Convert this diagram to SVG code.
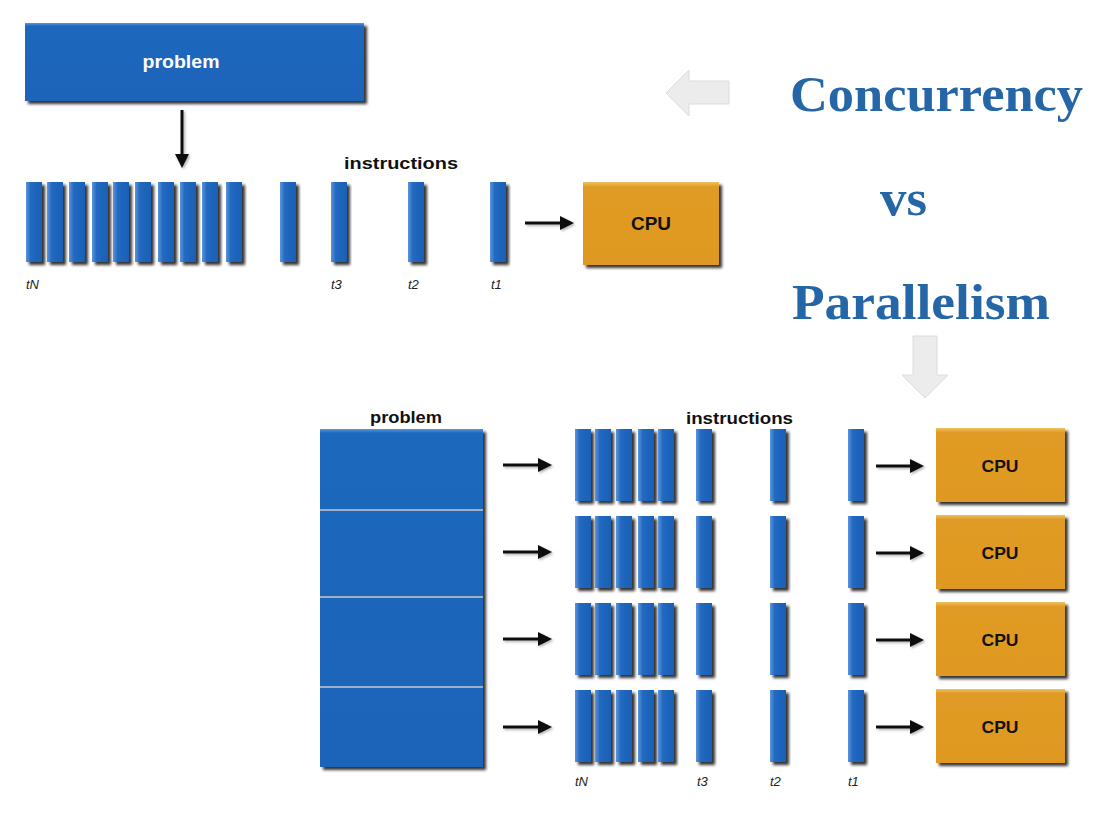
<svg xmlns="http://www.w3.org/2000/svg" width="1095" height="814" viewBox="0 0 1095 814">
<defs>
<style>
.bar{fill:url(#barGrad);filter:url(#sh)}
.blue{fill:url(#boxGrad);filter:url(#sh)}
.blue2{fill:url(#boxGrad2);filter:url(#sh)}
.cpu{fill:url(#cpuGrad);filter:url(#sh)}
.lbl{font-family:"Liberation Sans",Arial,sans-serif;font-weight:bold;fill:#111}
.tl{font-family:"Liberation Sans",Arial,sans-serif;font-style:italic;font-size:13px;fill:#222}
.title{font-family:"Liberation Serif","Times New Roman",serif;font-weight:bold;font-size:50px;fill:#2566a7}
.arr{stroke:#111;stroke-width:3;fill:none;marker-end:url(#ah);filter:url(#sh2)}
.ghost{fill:#ececec;stroke:#dcdcdc;stroke-width:1}
.div{stroke:#c8c8c8;stroke-width:1.5}
</style>
<linearGradient id="barGrad" x1="0" y1="0" x2="1" y2="0">
<stop offset="0" stop-color="#5a95dc"/>
<stop offset="0.3" stop-color="#2168c0"/>
<stop offset="1" stop-color="#1c60b5"/>
</linearGradient>
<linearGradient id="boxGrad" x1="0" y1="0" x2="0" y2="1">
<stop offset="0" stop-color="#5b97dc"/>
<stop offset="0.04" stop-color="#1f67bd"/>
<stop offset="1" stop-color="#1e64b9"/>
</linearGradient>
<linearGradient id="boxGrad2" x1="0" y1="0" x2="0" y2="1">
<stop offset="0" stop-color="#5b97dc"/>
<stop offset="0.012" stop-color="#1f67bd"/>
<stop offset="1" stop-color="#1e64b9"/>
</linearGradient>
<linearGradient id="cpuGrad" x1="0" y1="0" x2="0" y2="1">
<stop offset="0" stop-color="#f0c060"/>
<stop offset="0.06" stop-color="#e09b25"/>
<stop offset="1" stop-color="#df9922"/>
</linearGradient>
<filter id="sh" x="-30%" y="-10%" width="160%" height="130%">
<feDropShadow dx="3" dy="3" stdDeviation="1.6" flood-color="#000" flood-opacity="0.8"/>
</filter>
<filter id="sh2" filterUnits="userSpaceOnUse" x="0" y="0" width="1095" height="814">
<feDropShadow dx="1.5" dy="1.5" stdDeviation="1" flood-color="#000" flood-opacity="0.3"/>
</filter>
<marker id="ah" markerUnits="userSpaceOnUse" markerWidth="16" markerHeight="16" refX="2" refY="7" orient="auto">
<path d="M0,0 L14,7 L0,14 z" fill="#111"/>
</marker>
</defs>
<rect width="1095" height="814" fill="#fff"/>

<g id="concurrency">
<g id="problem-top">
<rect class="blue" x="25" y="23" width="339" height="78"/>
<text x="181" y="68" text-anchor="middle" class="lbl" style="fill:#fff;font-size:18px" textLength="77" lengthAdjust="spacingAndGlyphs">problem</text>
</g>
<g id="instructions-top">
<text x="344" y="169" class="lbl" style="font-size:17px" textLength="114" lengthAdjust="spacingAndGlyphs">instructions</text>
<rect class="bar" x="26" y="182" width="16" height="80"/>
<rect class="bar" x="47" y="182" width="16" height="80"/>
<rect class="bar" x="69" y="182" width="16" height="80"/>
<rect class="bar" x="92" y="182" width="16" height="80"/>
<rect class="bar" x="113" y="182" width="16" height="80"/>
<rect class="bar" x="135" y="182" width="16" height="80"/>
<rect class="bar" x="158" y="182" width="16" height="80"/>
<rect class="bar" x="180" y="182" width="16" height="80"/>
<rect class="bar" x="202" y="182" width="16" height="80"/>
<rect class="bar" x="226" y="182" width="16" height="80"/>
<rect class="bar" x="280" y="182" width="16" height="80"/>
<rect class="bar" x="331" y="182" width="16" height="80"/>
<rect class="bar" x="408" y="182" width="16" height="80"/>
<rect class="bar" x="490" y="182" width="16" height="80"/>
<text class="tl" x="26" y="289">tN</text>
<text class="tl" x="331" y="289">t3</text>
<text class="tl" x="408" y="289">t2</text>
<text class="tl" x="491" y="289">t1</text>
</g>
<g id="cpu-top">
<rect class="cpu" x="583" y="182" width="136" height="83"/>
<text x="651" y="230" text-anchor="middle" class="lbl" style="font-size:18px" textLength="40" lengthAdjust="spacingAndGlyphs">CPU</text>
</g>
</g>

<g id="titles">
<text class="title" x="790" y="111" textLength="293" lengthAdjust="spacingAndGlyphs">Concurrency</text>
<text class="title" x="880" y="215" textLength="47" lengthAdjust="spacingAndGlyphs">vs</text>
<text class="title" x="792" y="319" textLength="258" lengthAdjust="spacingAndGlyphs">Parallelism</text>
<path class="ghost" d="M666,93 L689,70 L689,81 L729,81 L729,104 L689,104 L689,116 Z"/>
<path class="ghost" d="M913,336 L937,336 L937,375 L948,375 L925,398 L902,375 L913,375 Z"/>
</g>

<g id="parallelism">
<g id="problem-bottom">
<text x="406" y="423" text-anchor="middle" class="lbl" style="font-size:16px" textLength="72" lengthAdjust="spacingAndGlyphs">problem</text>
<rect class="blue2" x="320" y="429" width="163" height="338"/>
<line class="div" x1="320" y1="510" x2="483" y2="510"/>
<line class="div" x1="320" y1="597" x2="483" y2="597"/>
<line class="div" x1="320" y1="687" x2="483" y2="687"/>
</g>
<text x="686" y="424" class="lbl" style="font-size:16px" textLength="107" lengthAdjust="spacingAndGlyphs">instructions</text>
<g id="row1">
<rect class="bar" x="575" y="429" width="16" height="72"/>
<rect class="bar" x="595" y="429" width="16" height="72"/>
<rect class="bar" x="616" y="429" width="16" height="72"/>
<rect class="bar" x="638" y="429" width="16" height="72"/>
<rect class="bar" x="658" y="429" width="16" height="72"/>
<rect class="bar" x="696" y="429" width="16" height="72"/>
<rect class="bar" x="770" y="429" width="16" height="72"/>
<rect class="bar" x="848" y="429" width="16" height="72"/>
<rect class="cpu" x="936" y="428" width="129" height="74"/>
<text x="1000" y="472" text-anchor="middle" class="lbl" style="font-size:17px" textLength="37" lengthAdjust="spacingAndGlyphs">CPU</text>
</g>
<g id="row2">
<rect class="bar" x="575" y="516" width="16" height="72"/>
<rect class="bar" x="595" y="516" width="16" height="72"/>
<rect class="bar" x="616" y="516" width="16" height="72"/>
<rect class="bar" x="638" y="516" width="16" height="72"/>
<rect class="bar" x="658" y="516" width="16" height="72"/>
<rect class="bar" x="696" y="516" width="16" height="72"/>
<rect class="bar" x="770" y="516" width="16" height="72"/>
<rect class="bar" x="848" y="516" width="16" height="72"/>
<rect class="cpu" x="936" y="515" width="129" height="74"/>
<text x="1000" y="559" text-anchor="middle" class="lbl" style="font-size:17px" textLength="37" lengthAdjust="spacingAndGlyphs">CPU</text>
</g>
<g id="row3">
<rect class="bar" x="575" y="603" width="16" height="72"/>
<rect class="bar" x="595" y="603" width="16" height="72"/>
<rect class="bar" x="616" y="603" width="16" height="72"/>
<rect class="bar" x="638" y="603" width="16" height="72"/>
<rect class="bar" x="658" y="603" width="16" height="72"/>
<rect class="bar" x="696" y="603" width="16" height="72"/>
<rect class="bar" x="770" y="603" width="16" height="72"/>
<rect class="bar" x="848" y="603" width="16" height="72"/>
<rect class="cpu" x="936" y="602" width="129" height="74"/>
<text x="1000" y="646" text-anchor="middle" class="lbl" style="font-size:17px" textLength="37" lengthAdjust="spacingAndGlyphs">CPU</text>
</g>
<g id="row4">
<rect class="bar" x="575" y="690" width="16" height="72"/>
<rect class="bar" x="595" y="690" width="16" height="72"/>
<rect class="bar" x="616" y="690" width="16" height="72"/>
<rect class="bar" x="638" y="690" width="16" height="72"/>
<rect class="bar" x="658" y="690" width="16" height="72"/>
<rect class="bar" x="696" y="690" width="16" height="72"/>
<rect class="bar" x="770" y="690" width="16" height="72"/>
<rect class="bar" x="848" y="690" width="16" height="72"/>
<rect class="cpu" x="936" y="689" width="129" height="74"/>
<text x="1000" y="733" text-anchor="middle" class="lbl" style="font-size:17px" textLength="37" lengthAdjust="spacingAndGlyphs">CPU</text>
</g>
<text class="tl" x="575" y="786">tN</text>
<text class="tl" x="697" y="786">t3</text>
<text class="tl" x="770" y="786">t2</text>
<text class="tl" x="848" y="786">t1</text>
</g>

<g id="connectors">
<line class="arr" x1="182" y1="110" x2="182" y2="156"/>
<line class="arr" x1="525" y1="223" x2="562" y2="223"/>
<line class="arr" x1="503" y1="465" x2="540" y2="465"/>
<line class="arr" x1="503" y1="552" x2="540" y2="552"/>
<line class="arr" x1="503" y1="639" x2="540" y2="639"/>
<line class="arr" x1="503" y1="727" x2="540" y2="727"/>
<line class="arr" x1="876" y1="466" x2="912" y2="466"/>
<line class="arr" x1="876" y1="553" x2="912" y2="553"/>
<line class="arr" x1="876" y1="640" x2="912" y2="640"/>
<line class="arr" x1="876" y1="727" x2="912" y2="727"/>
</g>
</svg>
